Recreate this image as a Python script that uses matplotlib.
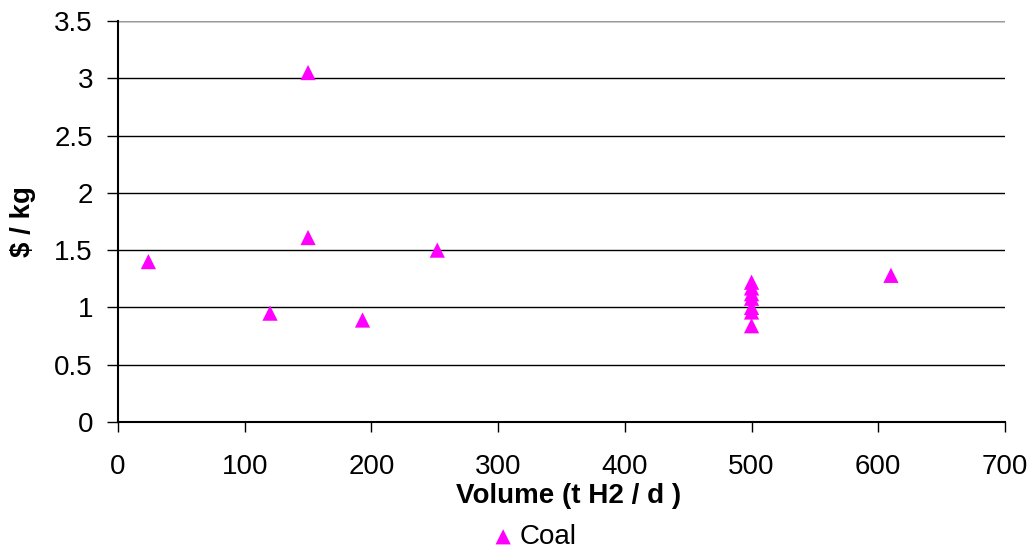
import matplotlib
matplotlib.use("Agg")
import matplotlib.pyplot as plt
import numpy as np

plt.rcParams['font.family'] = ['Liberation Sans', 'DejaVu Sans']

# Coal plant data: volume (t H2 / d) vs cost ($ / kg)
volume = [24, 120, 150, 150, 193, 252, 500, 500, 500, 500, 500, 500, 500, 610]
cost = [1.40, 0.95, 3.05, 1.61, 0.89, 1.50, 1.22, 1.17, 1.12, 1.08, 1.00, 0.96, 0.84, 1.28]

fig = plt.figure(figsize=(10.35, 5.52), dpi=100)
ax = fig.add_axes([0.114, 0.2355, 0.857, 0.7265])

ax.scatter(volume, cost, marker='^', s=120, color='#ff00ff', edgecolors='none',
           label='Coal', zorder=3)

ax.set_xlim(0, 700)
ax.set_ylim(0, 3.5)
ax.set_xticks(np.arange(0, 701, 100))
ax.set_yticks(np.arange(0, 3.51, 0.5))
ax.set_yticklabels(['0', '0.5', '1', '1.5', '2', '2.5', '3', '3.5'])
ax.yaxis.grid(True, color='black', linewidth=1.0)
ax.set_axisbelow(True)
# top gridline is lighter
ax.axhline(3.5, color='#999999', linewidth=1.5, zorder=1)

for s in ['top', 'right']:
    ax.spines[s].set_visible(False)
ax.spines['left'].set_linewidth(1.5)
ax.spines['bottom'].set_linewidth(1.5)
ax.tick_params(axis='x', direction='out', length=7, width=1.0, pad=16, labelsize=20)
ax.tick_params(axis='y', direction='out', length=8, width=1.0, pad=10, labelsize=20)

ax.set_xlabel('Volume (t H2 / d )', fontsize=20, fontweight='bold')
ax.set_ylabel('$ / kg', fontsize=20, fontweight='bold')
ax.xaxis.set_label_coords(0.508, -0.152)
ax.yaxis.set_label_coords(-0.092, 0.5)

fig.legend(loc='center', bbox_to_anchor=(0.515, 0.027), frameon=False, fontsize=20,
           handlelength=1.0, handletextpad=0.1, markerscale=1.0, borderpad=0)

fig.savefig('out.png', dpi=100)
